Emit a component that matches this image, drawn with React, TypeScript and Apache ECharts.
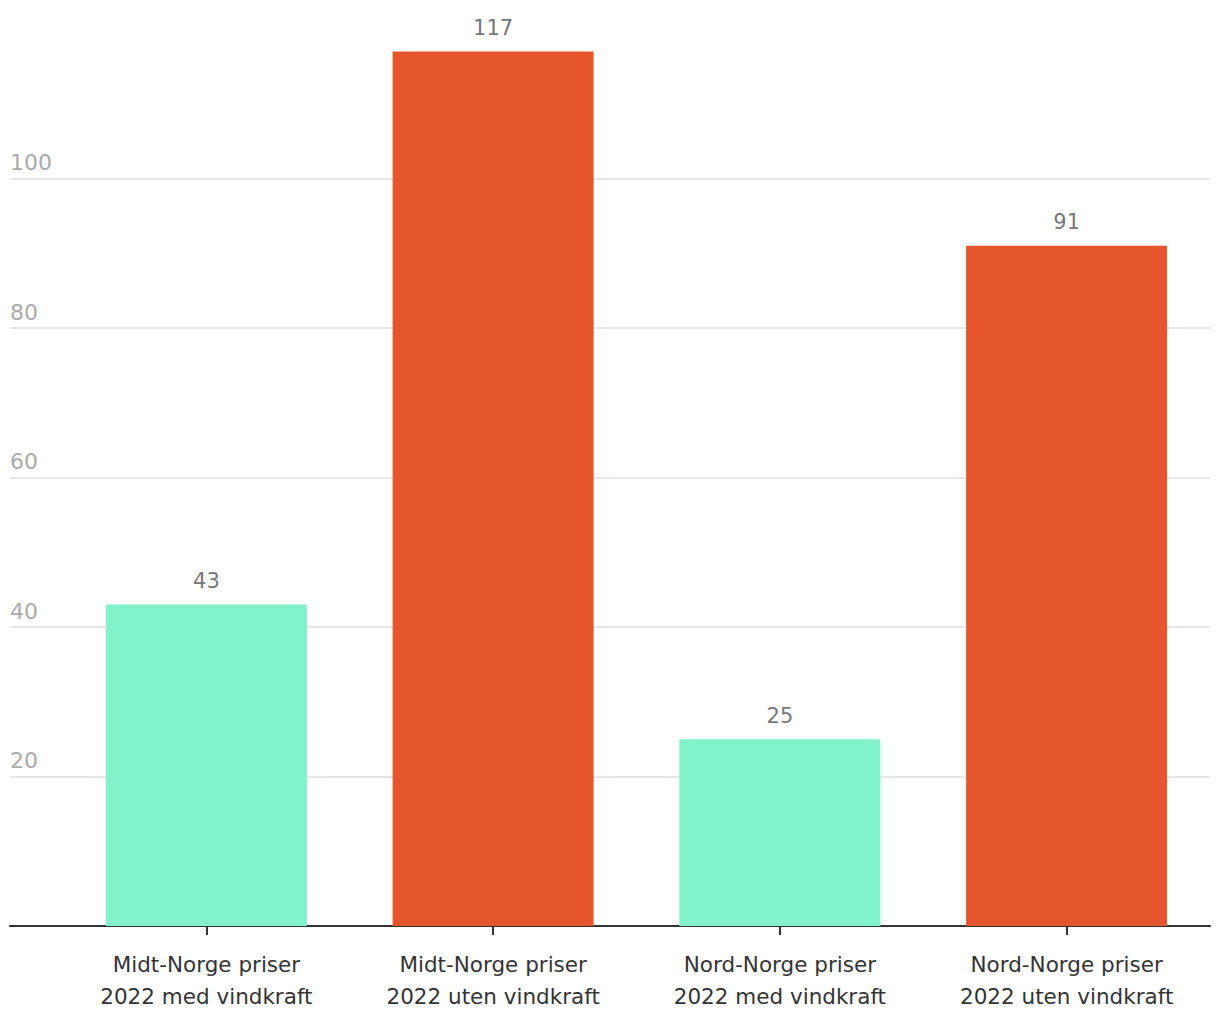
import React, { useEffect, useRef } from "react";
import * as echarts from "echarts";

const categories = [
  "Midt-Norge priser\n2022 med vindkraft",
  "Midt-Norge priser\n2022 uten vindkraft",
  "Nord-Norge priser\n2022 med vindkraft",
  "Nord-Norge priser\n2022 uten vindkraft",
];
const values = [43, 117, 25, 91];
const barColors = ["#82F2CA", "#E5562D", "#82F2CA", "#E5562D"];
const yMin = 0;
const yMax = 120;
const yInterval = 20;

const FONT = "'DejaVu Sans', sans-serif";

export default function App() {
  const ref = useRef<HTMLDivElement>(null);
  useEffect(() => {
    if (!ref.current) return;
    const chart = echarts.init(ref.current, undefined, { renderer: "svg" });
    const gridColors = ["#e6e6e6", "#e6e6e6", "#e6e6e6", "#e6e6e6", "#e6e6e6", "#e6e6e6", "rgba(0,0,0,0)"];
    chart.setOption({
      animation: false,
      textStyle: { fontFamily: FONT },
      grid: [
        { left: 10, right: 10, top: 29, bottom: 94 },
        { left: 63, right: 10, top: 29, bottom: 94 },
      ],
      xAxis: [
        {
          gridIndex: 0,
          type: "value",
          min: 0,
          max: 1,
          axisLine: { show: true, lineStyle: { color: "#333", width: 2 } },
          axisTick: { show: false },
          axisLabel: { show: false },
          splitLine: { show: false },
        },
        {
          gridIndex: 1,
          type: "category",
          data: categories,
          axisLine: { show: false },
          axisTick: { show: true, alignWithLabel: true, length: 9, lineStyle: { color: "#333", width: 2 } },
          axisLabel: {
            color: "#333",
            fontSize: 21.5,
            fontFamily: FONT,
            lineHeight: 32,
            margin: 22,
          },
        },
      ],
      yAxis: [
        {
          gridIndex: 0,
          type: "value",
          min: yMin,
          max: yMax,
          interval: yInterval,
          axisLine: { show: false },
          axisTick: { show: false },
          splitLine: { show: true, lineStyle: { color: gridColors, width: 2 } },
          axisLabel: {
            inside: true,
            margin: 0,
            color: "#aaa",
            fontSize: 22,
            fontFamily: FONT,
            verticalAlign: "bottom",
            padding: [0, 0, 5, 0],
            formatter: (v: number) => (v === yMin || v === yMax ? "" : String(v)),
          },
        },
        {
          gridIndex: 1,
          type: "value",
          min: yMin,
          max: yMax,
          interval: yInterval,
          show: false,
          splitLine: { show: false },
        },
      ],
      series: [
        {
          type: "bar",
          xAxisIndex: 1,
          yAxisIndex: 1,
          barWidth: 201,
          data: values.map((v, i) => ({ value: v, itemStyle: { color: barColors[i] } })),
          label: {
            show: true,
            position: "top",
            distance: 13,
            color: "#777",
            fontSize: 21,
            fontFamily: FONT,
          },
        },
      ],
    });
    return () => chart.dispose();
  }, []);
  return <div ref={ref} style={{ width: 1220, height: 1020, margin: -8 }} />;
}
